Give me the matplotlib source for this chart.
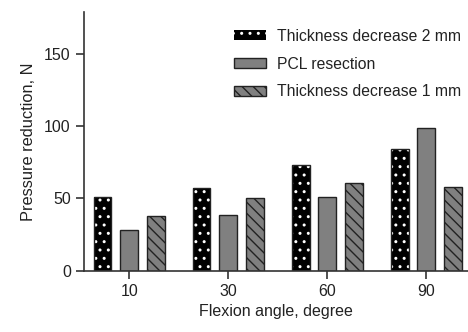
import numpy as np
import matplotlib.pyplot as plt
from matplotlib.patches import Patch

plt.rcParams['font.family'] = ['Liberation Sans', 'DejaVu Sans']

angles = ["10", "30", "60", "90"]
thick_2mm = [51, 57, 73, 84]
pcl = [28, 38.5, 51, 99]
thick_1mm = [38, 50, 60.5, 58]

fig = plt.figure(figsize=(4.68, 3.32), dpi=100)
ax = fig.add_axes([0.1795, 0.185, 0.8205, 0.779])

x = np.arange(len(angles))
w = 0.18
off = 0.27

# dotted bars: black fill with white dots
ax.bar(x - off, thick_2mm, w, color="black", edgecolor="white", hatch="..", linewidth=0)
ax.bar(x - off, thick_2mm, w, facecolor="none", edgecolor="#222222", linewidth=1.0)
ax.bar(x, pcl, w, color="#808080", edgecolor="#222222", linewidth=1.0)
ax.bar(x + off, thick_1mm, w, color="#808080", edgecolor="#222222", hatch="\\\\\\", linewidth=1.0)

ax.set_xlim(-0.457, 3.42)
ax.set_ylim(0, 179)
ax.set_xticks(x)
ax.set_xticklabels(angles)
ax.set_yticks([0, 50, 100, 150])
ax.tick_params(labelsize=11.5, length=6, width=1.2, color="#333333", labelcolor="#222222")
for s in ["top", "right"]:
    ax.spines[s].set_visible(False)
for s in ["left", "bottom"]:
    ax.spines[s].set_linewidth(1.2)
    ax.spines[s].set_color("#333333")

ax.set_xlabel("Flexion angle, degree", fontsize=11.5, labelpad=4, color="#222222")
ax.set_ylabel("Pressure reduction, N", fontsize=11.8, labelpad=6, color="#222222")

handles = [
    Patch(facecolor="black", edgecolor="white", hatch="..", linewidth=0),
    Patch(facecolor="#808080", edgecolor="#222222", linewidth=1.0),
    Patch(facecolor="#808080", edgecolor="#222222", hatch="\\\\\\", linewidth=1.0),
]
leg = ax.legend(handles, ["Thickness decrease 2 mm", "PCL resection", "Thickness decrease 1 mm"],
                loc="upper right", bbox_to_anchor=(1.02, 0.99), frameon=False, fontsize=11.3,
                handlelength=2.0, handleheight=0.55, labelspacing=0.82, handletextpad=0.75)
for t in leg.get_texts():
    t.set_color("#222222")

fig.savefig("out.png", dpi=100)
